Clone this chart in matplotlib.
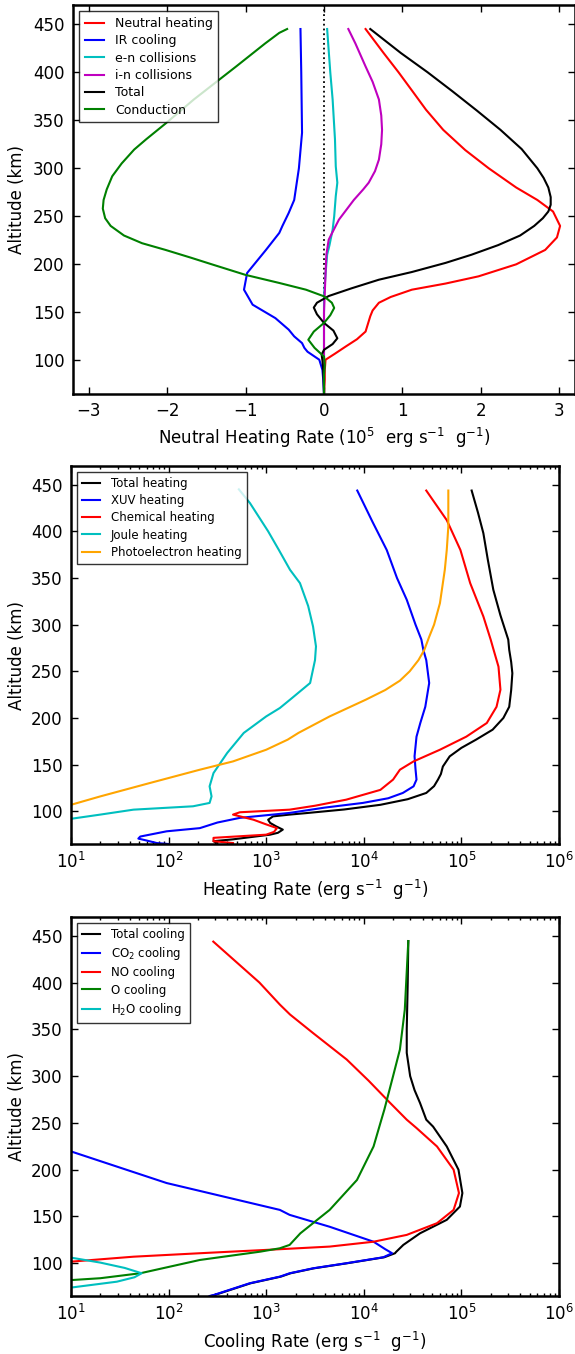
import numpy as np
import matplotlib
matplotlib.use("Agg")
import matplotlib.pyplot as plt
from matplotlib.ticker import LogLocator, NullFormatter

# ---------------- Neutral heating budget (10^5 erg s^-1 g^-1) ----------------
nh_alt = [445, 420, 400, 380, 361, 340, 319, 300, 280, 267, 255, 240, 228, 215, 200,
          187.5, 180, 173.6, 166, 160, 152, 146, 138, 130, 122, 114.6, 107, 100.7, 90, 80, 65]
nh_val = [0.53, 0.76, 0.95, 1.13, 1.30, 1.52, 1.80, 2.10, 2.45, 2.72, 2.92, 3.01, 2.97, 2.82, 2.45,
          1.97, 1.55, 1.12, 0.85, 0.70, 0.62, 0.59, 0.56, 0.53, 0.42, 0.28, 0.14, 0.02, 0.01, 0.01, 0.0]

ir_alt = [445, 400, 337, 300, 278, 267, 253.5, 240, 232.7, 215, 191, 173.6, 158, 144, 132,
          125, 118, 113, 109, 100.7, 90, 80, 65]
ir_val = [-0.30, -0.29, -0.28, -0.32, -0.36, -0.38, -0.45, -0.53, -0.57, -0.74, -0.98, -1.02, -0.91,
          -0.62, -0.45, -0.38, -0.28, -0.25, -0.21, -0.06, -0.02, -0.01, 0.0]

en_alt = [445, 400, 371.6, 330, 302, 285, 271, 250, 236, 220, 210, 190, 167, 150, 100, 65]
en_val = [0.04, 0.08, 0.11, 0.14, 0.15, 0.17, 0.15, 0.13, 0.11, 0.07, 0.04, 0.02, 0.0, 0.0, 0.0, 0.0]

in_alt = [445, 430, 406, 390, 371.6, 355, 340, 325, 309, 297, 285, 278, 267, 246.5, 225.7,
          210, 191, 170, 150, 65]
in_val = [0.31, 0.40, 0.53, 0.62, 0.70, 0.73, 0.74, 0.73, 0.70, 0.65, 0.57, 0.50, 0.38, 0.19, 0.06,
          0.03, 0.02, 0.01, 0.0, 0.0]

tot_alt = [445, 420, 400, 380, 360, 340, 320, 300, 290, 280, 270, 262, 255, 248, 240, 230, 220,
           210, 201.5, 192, 184, 175, 167, 160, 155, 148, 139, 131, 123, 117, 111, 106, 100, 90,
           80, 65]
tot_val = [0.59, 0.98, 1.32, 1.64, 1.95, 2.25, 2.52, 2.72, 2.80, 2.86, 2.89, 2.89, 2.86, 2.79,
           2.68, 2.50, 2.22, 1.88, 1.55, 1.12, 0.70, 0.35, 0.06, -0.09, -0.13, -0.09, 0.0, 0.12,
           0.17, 0.11, 0.0, -0.03, -0.02, -0.01, -0.005, 0.0]

cond_alt = [445, 441, 430, 406, 371.6, 346.6, 330, 319.5, 305, 291.7, 278, 267, 258, 248, 240,
            230, 222, 215, 207, 200, 189, 180.6, 173.6, 166.7, 160, 154.6, 147, 139, 130, 121.5,
            113, 104, 95, 85, 65]
cond_val = [-0.47, -0.57, -0.75, -1.12, -1.66, -2.02, -2.27, -2.42, -2.58, -2.70, -2.77, -2.81,
            -2.82, -2.79, -2.72, -2.55, -2.32, -2.02, -1.70, -1.43, -1.00, -0.57, -0.23, 0.0, 0.10,
            0.13, 0.08, 0.0, -0.13, -0.20, -0.12, 0.0, 0.01, 0.0, 0.0]

# ---------------- Heating terms, log10(erg s^-1 g^-1) ----------------
th_alt = [443.7, 420, 398, 370, 337.4, 310, 284, 273, 260, 248, 230, 212, 200, 187.5, 176.8, 168,
          158.9, 148, 140, 134, 127, 119.7, 113, 107, 102, 98, 96.5, 94.6, 91, 87.6, 84, 80.4, 77,
          75, 70, 68, 66]
th_log = [5.105, 5.17, 5.225, 5.27, 5.327, 5.40, 5.48, 5.49, 5.51, 5.522, 5.51, 5.49, 5.43, 5.32,
          5.15, 5.0, 4.88, 4.81, 4.79, 4.76, 4.72, 4.64, 4.45, 4.17, 3.8, 3.4, 3.24, 3.07, 3.02, 3.04,
          3.10, 3.17, 3.12, 3.04, 2.66, 2.46, 2.5]

xuv_alt = [443.7, 410, 380, 350, 326.7, 300, 284, 273, 262, 237.5, 212, 195, 180, 159, 145, 134,
           126.8, 119.7, 114, 109, 104, 98.3, 93, 88, 82, 78.6, 73, 70.8, 68.6, 66, 65]
xuv_log = [3.933, 4.09, 4.235, 4.34, 4.44, 4.53, 4.59, 4.61, 4.64, 4.67, 4.63, 4.58, 4.54, 4.52,
           4.53, 4.54, 4.51, 4.40, 4.25, 3.99, 3.6, 3.24, 2.73, 2.5, 2.32, 1.98, 1.71, 1.69, 1.78,
           1.88, 2.0]

chem_alt = [443.7, 412, 380, 344.5, 308.8, 284, 273, 255, 230.3, 212, 194.6, 180, 166, 153.5,
            144.6, 134, 123, 112.5, 106, 101.8, 99, 96.5, 91, 86, 82, 78, 75, 71.6, 68, 66]
chem_log = [4.64, 4.85, 4.99, 5.09, 5.225, 5.30, 5.33, 5.38, 5.40, 5.36, 5.26, 5.05, 4.78, 4.51,
            4.37, 4.30, 4.17, 3.82, 3.5, 3.24, 2.73, 2.66, 2.87, 3.0, 3.11, 3.08, 3.00, 2.46, 2.46, 2.66]

joule_alt = [445, 430.2, 400, 380, 358.8, 344.5, 320, 298, 276.7, 262, 237.5, 221, 210.7, 201.7,
             184, 162.5, 141, 126.8, 116, 109, 105.4, 101.8, 96.5, 92, 88]
joule_log = [2.72, 2.834, 3.02, 3.13, 3.244, 3.346, 3.43, 3.48, 3.51, 3.50, 3.45, 3.26, 3.14, 3.0,
             2.77, 2.60, 2.46, 2.42, 2.44, 2.42, 2.25, 1.64, 1.30, 1.0, 0.7]

pe_alt = [443.7, 405, 380, 358.8, 323, 300, 287, 273, 262, 250, 240, 230, 219.6, 201.7, 184,
          176.8, 166, 153.5, 144.6, 130.4, 116, 107, 100]
pe_log = [4.866, 4.866, 4.85, 4.83, 4.78, 4.72, 4.67, 4.62, 4.56, 4.47, 4.37, 4.22, 4.02, 3.65,
          3.33, 3.22, 3.0, 2.66, 2.32, 1.81, 1.30, 1.0, 0.8]

# ---------------- Cooling terms, log10(erg s^-1 g^-1) ----------------
tc_alt = [444.3, 400, 350, 324.8, 300, 285, 271.3, 253.4, 246, 224.8, 200, 175, 160.6, 146.4, 132,
          119.6, 112, 110.7, 106.4, 100, 94.6, 89.3, 85.7, 78.6, 66, 65]
tc_log = [4.456, 4.45, 4.44, 4.44, 4.475, 4.52, 4.576, 4.64, 4.71, 4.85, 4.97, 5.01, 4.985, 4.85,
          4.576, 4.405, 4.33, 4.32, 4.21, 3.83, 3.49, 3.25, 3.15, 2.84, 2.47, 2.43]

co2_alt = [235, 219.5, 185.7, 157, 151.7, 139, 123, 115, 110.7, 106.4, 100, 94.6, 89.3, 85.7, 78.6,
           66, 65]
co2_log = [0.6, 1.0, 1.98, 3.14, 3.24, 3.65, 4.10, 4.22, 4.29, 4.20, 3.82, 3.48, 3.24, 3.14, 2.83,
           2.46, 2.42]

no_alt = [443.7, 400, 376.4, 365.8, 346, 317.7, 295, 271.3, 253.4, 244.5, 224.8, 200, 175, 157,
          142.8, 130.3, 123, 117.8, 115, 110.7, 107, 101.7, 97]
no_log = [2.458, 2.93, 3.14, 3.244, 3.48, 3.825, 4.05, 4.27, 4.44, 4.54, 4.75, 4.92, 4.975, 4.92,
          4.75, 4.44, 4.10, 3.65, 3.14, 2.32, 1.64, 1.0, 0.5]

o_alt = [444.3, 371, 328.4, 300, 264, 253.4, 224.8, 189, 157, 132, 119.6, 116, 112.4, 103.5, 89.3,
         84, 82, 80]
o_log = [4.456, 4.42, 4.37, 4.30, 4.21, 4.18, 4.10, 3.93, 3.65, 3.35, 3.24, 3.14, 2.94, 2.32, 1.71,
         1.30, 1.0, 0.7]

h2o_alt = [110, 106, 100.7, 95, 89.3, 85, 80.3, 74, 70]
h2o_log = [0.6, 1.0, 1.30, 1.55, 1.724, 1.65, 1.47, 1.0, 0.6]

alt_ticks = [100, 150, 200, 250, 300, 350, 400, 450]

plt.rcParams.update({
    "font.family": "DejaVu Sans",
    "font.size": 12,
    "axes.linewidth": 1.8,
    "xtick.direction": "in", "ytick.direction": "in",
    "xtick.top": True, "ytick.right": True,
    "xtick.major.size": 5, "ytick.major.size": 5,
    "xtick.minor.size": 2.5, "ytick.minor.size": 2.5,
    "xtick.major.width": 1.0, "ytick.major.width": 1.0,
    "xtick.minor.width": 1.0, "ytick.minor.width": 1.0,
    "xtick.major.pad": 6, "ytick.major.pad": 6,
    "lines.linewidth": 1.5,
})

W, H = 575, 1354
fig = plt.figure(figsize=(W / 100, H / 100), dpi=100)


def axes_px(left, top, right, bottom):
    ax = fig.add_axes([left / W, 1 - bottom / H, (right - left) / W, (bottom - top) / H])
    ax.set_ylabel("Altitude (km)")
    # right edge of the rotated y label sits 26 px from the figure's left edge
    ax.yaxis.set_label_coords((26 - left) / (right - left), 0.5)
    return ax


def style_alt_axis(ax):
    ax.set_ylim(65, 470)
    ax.set_yticks(alt_ticks)


def add_legend(ax, size):
    leg = ax.legend(loc="upper left", fontsize=size, fancybox=False, framealpha=0.8,
                    edgecolor="black", handlelength=1.5, handletextpad=0.9,
                    labelspacing=0.35, borderpad=0.45)
    leg.get_frame().set_linewidth(1.0)
    leg.set_zorder(10)


def pow10(v):
    return np.power(10.0, v)


# Panel 1: neutral heating budget
ax1 = axes_px(73, 5, 575, 394)
ax1.axvline(0, color="black", linestyle=":", linewidth=1.3)
ax1.plot(nh_val, nh_alt, color="r", label="Neutral heating")
ax1.plot(ir_val, ir_alt, color="b", label="IR cooling")
ax1.plot(en_val, en_alt, color="c", label="e-n collisions")
ax1.plot(in_val, in_alt, color="m", label="i-n collisions")
ax1.plot(tot_val, tot_alt, color="k", label="Total")
ax1.plot(cond_val, cond_alt, color="g", label="Conduction")
ax1.set_xlim(-3.2, 3.2)
ax1.set_xticks([-3, -2, -1, 0, 1, 2, 3])
style_alt_axis(ax1)
ax1.set_xlabel(r"Neutral Heating Rate ($10^5$  erg s$^{-1}$  g$^{-1}$)")
add_legend(ax1, 9)

# Panel 2: heating terms
ax2 = axes_px(71, 466, 559, 844)
ax2.plot(pow10(th_log), th_alt, color="k", label="Total heating")
ax2.plot(pow10(xuv_log), xuv_alt, color="b", label="XUV heating")
ax2.plot(pow10(chem_log), chem_alt, color="r", label="Chemical heating")
ax2.plot(pow10(joule_log), joule_alt, color="c", label="Joule heating")
ax2.plot(pow10(pe_log), pe_alt, color="orange", label="Photoelectron heating")
ax2.set_xscale("log")
ax2.set_xlim(10, 1e6)
style_alt_axis(ax2)
ax2.set_xlabel(r"Heating Rate (erg s$^{-1}$  g$^{-1}$)")
add_legend(ax2, 8.5)

# Panel 3: cooling terms
ax3 = axes_px(71, 917, 559, 1296)
ax3.plot(pow10(tc_log), tc_alt, color="k", label="Total cooling")
ax3.plot(pow10(co2_log), co2_alt, color="b", label=r"CO$_2$ cooling")
ax3.plot(pow10(no_log), no_alt, color="r", label="NO cooling")
ax3.plot(pow10(o_log), o_alt, color="g", label="O cooling")
ax3.plot(pow10(h2o_log), h2o_alt, color="c", label=r"H$_2$O cooling")
ax3.set_xscale("log")
ax3.set_xlim(10, 1e6)
style_alt_axis(ax3)
ax3.set_xlabel(r"Cooling Rate (erg s$^{-1}$  g$^{-1}$)")
add_legend(ax3, 8.5)

for ax in (ax2, ax3):
    ax.xaxis.set_major_locator(LogLocator(base=10, numticks=10))
    ax.xaxis.set_minor_locator(LogLocator(base=10, subs=np.arange(2, 10), numticks=20))
    ax.xaxis.set_minor_formatter(NullFormatter())

fig.savefig("out.png", dpi=100)
